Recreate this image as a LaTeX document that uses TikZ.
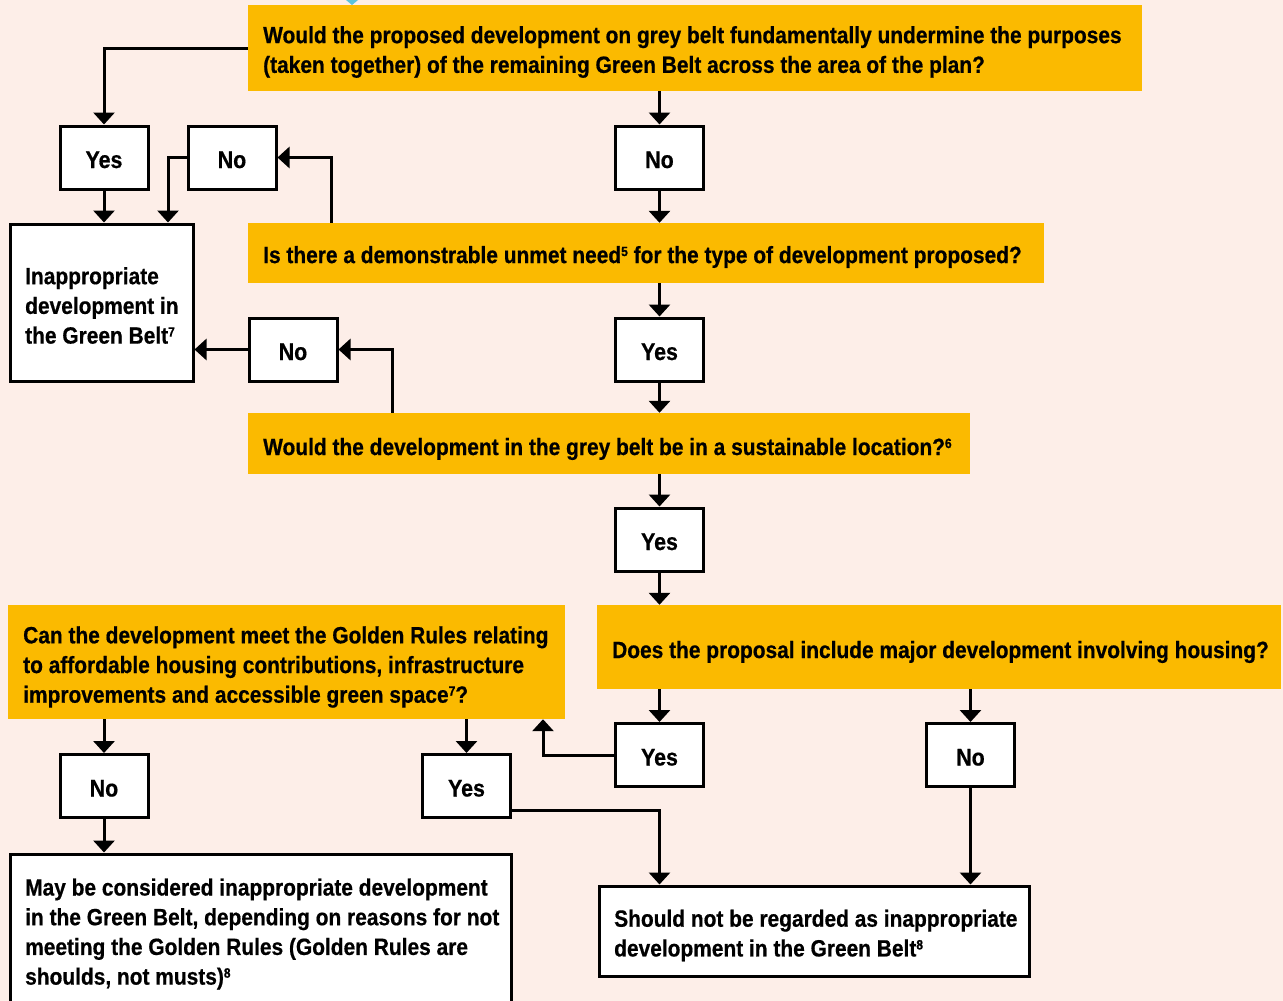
\documentclass[tikz,border=0pt]{standalone}
\usepackage{fontspec}
\newfontfamily\qfont{Liberation Sans Bold}[FakeStretch=0.89,FakeBold=0.6]
\usetikzlibrary{arrows.meta,calc}
\definecolor{bgpink}{HTML}{FDEEE8}
\definecolor{qyellow}{HTML}{FBBA00}
\definecolor{tipcyan}{HTML}{5BC3DC}
\newcommand\fnote[1]{\raisebox{7pt}{\fontsize{13.5}{14}\selectfont #1}}
\tikzset{
  ybox/.style={fill=qyellow, draw=none, inner sep=0pt},
  wbox/.style={fill=white, draw=black, line width=3pt, inner sep=0pt},
  ynbox/.style={wbox, minimum width=88pt, minimum height=63pt, text height=21pt, text depth=0pt, font=\fontsize{24}{28}\qfont},
  qtext/.style={anchor=west, align=left, inner sep=0pt, font=\fontsize{23.5}{29.7}\qfont},
  arr/.style={line width=3pt, -{Triangle[width=21pt,length=12pt]}},
  conn/.style={line width=3pt}
}
\begin{document}
\begin{tikzpicture}[x=1pt,y=-1pt]
\clip (0,0) rectangle (1283,1001);
\fill[bgpink] (0,0) rectangle (1283,1001);
\useasboundingbox (0,0) rectangle (1283,1001);
\fill[tipcyan] (346,0) -- (358,0) -- (352,5) -- cycle;

% question boxes
\node[ybox, minimum width=894pt, minimum height=86pt] (q1) at (695,48) {};
\node[ybox, minimum width=796pt, minimum height=60pt] (q2) at (646,253) {};
\node[ybox, minimum width=722pt, minimum height=61pt] (q3) at (609,443.5) {};
\node[ybox, minimum width=684pt, minimum height=84pt] (q4) at (939,647) {};
\node[ybox, minimum width=557pt, minimum height=114pt] (q5) at (286.5,662) {};

\node[qtext] (q1t) at (263,52) {Would the proposed development on grey belt fundamentally undermine the purposes\\(taken together) of the remaining Green Belt across the area of the plan?};
\node[qtext] (q2t) at (263,257) {Is there a demonstrable unmet need\fnote{5} for the type of development proposed?};
\node[qtext] (q3t) at (263,449) {Would the development in the grey belt be in a sustainable location?\fnote{6}};
\node[qtext] (q4t) at (612,652) {Does the proposal include major development involving housing?};
\node[qtext] (q5t) at (23,667) {Can the development meet the Golden Rules relating\\to affordable housing contributions, infrastructure\\improvements and accessible green space\fnote{7}?};

% yes/no boxes
\node[ynbox] (yes1) at (104,157.5) {Yes};
\node[ynbox] (no1) at (232,157.5) {No};
\node[ynbox] (no2) at (659.5,157.5) {No};
\node[ynbox] (yes2) at (659.5,349.5) {Yes};
\node[ynbox] (no3) at (293,349.5) {No};
\node[ynbox] (yes3) at (659.5,539.5) {Yes};
\node[ynbox] (yes4) at (659.5,755) {Yes};
\node[ynbox] (no4) at (970.5,755) {No};
\node[ynbox] (no5) at (104,786) {No};
\node[ynbox] (yes5) at (466.5,786) {Yes};

% outcome boxes
\node[wbox, minimum width=183pt, minimum height=157pt] (inap) at (101.5,302.5) {};
\node[qtext] (inapt) at (25,305.5) {Inappropriate\\development in\\the Green Belt\fnote{7}};
\node[wbox, minimum width=501pt, minimum height=160pt] (may) at (260.5,934) {};
\node[qtext] (mayt) at (25,934) {May be considered inappropriate development\\in the Green Belt, depending on reasons for not\\meeting the Golden Rules (Golden Rules are\\shoulds, not musts)\fnote{8}};
\node[wbox, minimum width=430pt, minimum height=90pt] (should) at (814,931) {};
\node[qtext] (shouldt) at (614,935.5) {Should not be regarded as inappropriate\\development in the Green Belt\fnote{8}};

% helper coordinates
\coordinate (c168) at (168,0);
\coordinate (c331) at (331,0);
\coordinate (c392) at (392,0);
\coordinate (c543) at (543,0);

% connectors
\draw[arr] (q1.west) -| (yes1.north);
\draw[arr] (no2 |- q1.south) -- (no2.north);
\draw[arr] (no2.south) -- (no2 |- q2.north);
\draw[arr] (yes1.south) -- (yes1 |- inap.north);
\draw[arr] (no1.west) -| (c168 |- inap.north);
\draw[arr] (c331 |- q2.north) |- (no1.east);
\draw[arr] (yes2 |- q2.south) -- (yes2.north);
\draw[arr] (no3.west) -- (no3.west -| inap.east);
\draw[arr] (c392 |- q3.north) |- (no3.east);
\draw[arr] (yes2.south) -- (yes2 |- q3.north);
\draw[arr] (yes3 |- q3.south) -- (yes3.north);
\draw[arr] (yes3.south) -- (yes3 |- q4.north);
\draw[arr] (yes4 |- q4.south) -- (yes4.north);
\draw[arr] (no4 |- q4.south) -- (no4.north);
\draw[arr] (yes4.west) -| (c543 |- q5.south);
\draw[arr] (no5 |- q5.south) -- (no5.north);
\draw[arr] (yes5 |- q5.south) -- (yes5.north);
\draw[arr] (no5.south) -- (no5 |- may.north);
\draw[arr] ([yshift=-24pt]yes5.east) -| (yes4 |- should.north);
\draw[arr] (no4.south) -- (no4 |- should.north);
\end{tikzpicture}
\end{document}
